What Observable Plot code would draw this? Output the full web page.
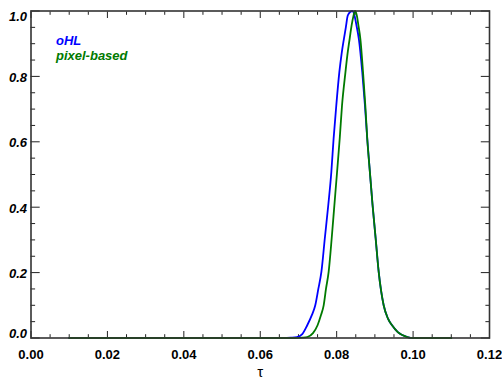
<!DOCTYPE html>
<html><head><meta charset="utf-8">
<script src="https://cdn.jsdelivr.net/npm/d3@7"></script>
<script src="https://cdn.jsdelivr.net/npm/@observablehq/plot@0.6"></script>
<style>html,body{margin:0;padding:0;background:#fff;} svg{display:block;}</style>
</head><body><div id="chart"></div>
<script>
const seriesNames = ["oHL", "pixel-based"];
const seriesColors = ["#0000ff", "#007a00"];

const oHLTau = [0.010, 0.060, 0.066, 0.068, 0.0696, 0.0710, 0.0723, 0.0735, 0.0744, 0.0752, 0.0760, 0.0769, 0.0778, 0.0786, 0.0792, 0.0799, 0.0807, 0.0813, 0.0819, 0.0824, 0.0829, 0.0836, 0.0841, 0.0847, 0.0852, 0.0858, 0.0867, 0.0874, 0.0880, 0.0887, 0.0894, 0.0902, 0.0910, 0.0923, 0.0934, 0.0945, 0.0960, 0.0985, 0.1000, 0.1100];
const oHLValue = [0, 0, 0.000, 0.001, 0.003, 0.012, 0.039, 0.070, 0.100, 0.150, 0.202, 0.305, 0.406, 0.507, 0.610, 0.711, 0.813, 0.870, 0.915, 0.950, 0.986, 0.998, 1.000, 0.985, 0.955, 0.915, 0.813, 0.711, 0.610, 0.507, 0.406, 0.305, 0.202, 0.100, 0.060, 0.039, 0.018, 0.003, 0.000, 0];

const pixTau = [0.010, 0.062, 0.069, 0.0710, 0.0723, 0.0738, 0.0750, 0.0759, 0.0766, 0.0772, 0.0779, 0.0787, 0.0794, 0.0801, 0.0808, 0.0814, 0.0823, 0.0828, 0.0834, 0.0839, 0.0844, 0.0848, 0.0853, 0.0857, 0.0862, 0.0869, 0.0875, 0.0880, 0.0887, 0.0894, 0.0902, 0.0910, 0.0923, 0.0934, 0.0945, 0.0960, 0.0985, 0.1000, 0.1100];
const pixValue = [0, 0, 0, 0.001, 0.003, 0.015, 0.039, 0.070, 0.100, 0.150, 0.202, 0.305, 0.406, 0.507, 0.610, 0.711, 0.813, 0.865, 0.915, 0.955, 0.985, 1.000, 0.985, 0.955, 0.915, 0.813, 0.711, 0.610, 0.507, 0.406, 0.305, 0.202, 0.100, 0.060, 0.039, 0.018, 0.003, 0.000, 0];

const xMajorTicks = [0.00, 0.02, 0.04, 0.06, 0.08, 0.10, 0.12];
const xMinorTicks = [0.005,0.010,0.015,0.025,0.030,0.035,0.045,0.050,0.055,0.065,0.070,0.075,0.085,0.090,0.095,0.105,0.110,0.115];
const yMajorTicks = [0.0, 0.2, 0.4, 0.6, 0.8, 1.0];
const yMinorTicks = [0.05,0.10,0.15,0.25,0.30,0.35,0.45,0.50,0.55,0.65,0.70,0.75,0.85,0.90,0.95];
const xLabel = "τ";

const oHL = oHLTau.map((t, i) => ({tau: t, value: oHLValue[i]}));
const pix = pixTau.map((t, i) => ({tau: t, value: pixValue[i]}));

const font = "'Liberation Sans', Helvetica, Arial, sans-serif";
const tickColor = "#222";

const chart = Plot.plot({
  width: 502,
  height: 381,
  marginLeft: 30.5,
  marginRight: 13,
  marginTop: 10.5,
  marginBottom: 43.5,
  style: {fontFamily: font, fontSize: "13px", background: "#fff", color: "#000"},
  x: {domain: [0, 0.12], axis: null},
  y: {domain: [0, 1], axis: null},
  marks: [
    // ticks (inward, mirrored)
    Plot.axisX(xMajorTicks, {anchor: "bottom", tickSize: -6.5, fill: "none", stroke: tickColor, label: null}),
    Plot.axisX(xMinorTicks, {anchor: "bottom", tickSize: -3.3, fill: "none", stroke: tickColor, label: null}),
    Plot.axisX(xMajorTicks, {anchor: "top", tickSize: -6.5, fill: "none", stroke: tickColor, label: null}),
    Plot.axisX(xMinorTicks, {anchor: "top", tickSize: -3.3, fill: "none", stroke: tickColor, label: null}),
    Plot.axisY(yMajorTicks, {anchor: "left", tickSize: -9.2, fill: "none", stroke: tickColor, label: null}),
    Plot.axisY(yMinorTicks, {anchor: "left", tickSize: -4.6, fill: "none", stroke: tickColor, label: null}),
    Plot.axisY(yMajorTicks, {anchor: "right", tickSize: -9.2, fill: "none", stroke: tickColor, label: null}),
    Plot.axisY(yMinorTicks, {anchor: "right", tickSize: -4.6, fill: "none", stroke: tickColor, label: null}),
    // tick labels
    Plot.axisX(xMajorTicks, {anchor: "bottom", tickSize: 0, tickPadding: 12, tickFormat: d3.format(".2f"), fontWeight: "bold", fontSize: 13, fill: "#000", label: null}),
    Plot.axisY(yMajorTicks.filter(v => v > 0 && v < 1), {anchor: "left", tickSize: 0, tickPadding: 4, dy: 1.5, tickFormat: d3.format(".1f"), fontWeight: "bold", fontStyle: "italic", fontSize: 13, fill: "#000", label: null}),
    Plot.axisY(yMajorTicks.filter(v => v === 1), {anchor: "left", tickSize: 0, tickPadding: 4, dy: 6, tickFormat: d3.format(".1f"), fontWeight: "bold", fontStyle: "italic", fontSize: 13, fill: "#000", label: null}),
    Plot.axisY(yMajorTicks.filter(v => v === 0), {anchor: "left", tickSize: 0, tickPadding: 4, dy: -4.5, tickFormat: d3.format(".1f"), fontWeight: "bold", fontStyle: "italic", fontSize: 13, fill: "#000", label: null}),
    // axis title
    Plot.text([xLabel], {frameAnchor: "bottom", lineAnchor: "bottom", dy: 38.5, fontSize: 15, fill: "#000", text: d => d}),
    // curves
    Plot.line(oHL, {x: "tau", y: "value", stroke: seriesColors[0], strokeWidth: 1.8, curve: "monotone-x"}),
    Plot.line(pix, {x: "tau", y: "value", stroke: seriesColors[1], strokeWidth: 1.8, curve: "monotone-x"}),
    // legend
    Plot.text([seriesNames[0]], {frameAnchor: "top-left", textAnchor: "start", lineAnchor: "bottom", dx: 25, dy: 33.5, fill: seriesColors[0], fontWeight: "bold", fontStyle: "italic", fontSize: 13, text: d => d}),
    Plot.text([seriesNames[1]], {frameAnchor: "top-left", textAnchor: "start", lineAnchor: "bottom", dx: 25, dy: 49, fill: seriesColors[1], fontWeight: "bold", fontStyle: "italic", fontSize: 13, text: d => d}),
    Plot.frame({stroke: "#333", strokeWidth: 1.6})
  ]
});
document.getElementById("chart").appendChild(chart);
</script>
</body></html>
